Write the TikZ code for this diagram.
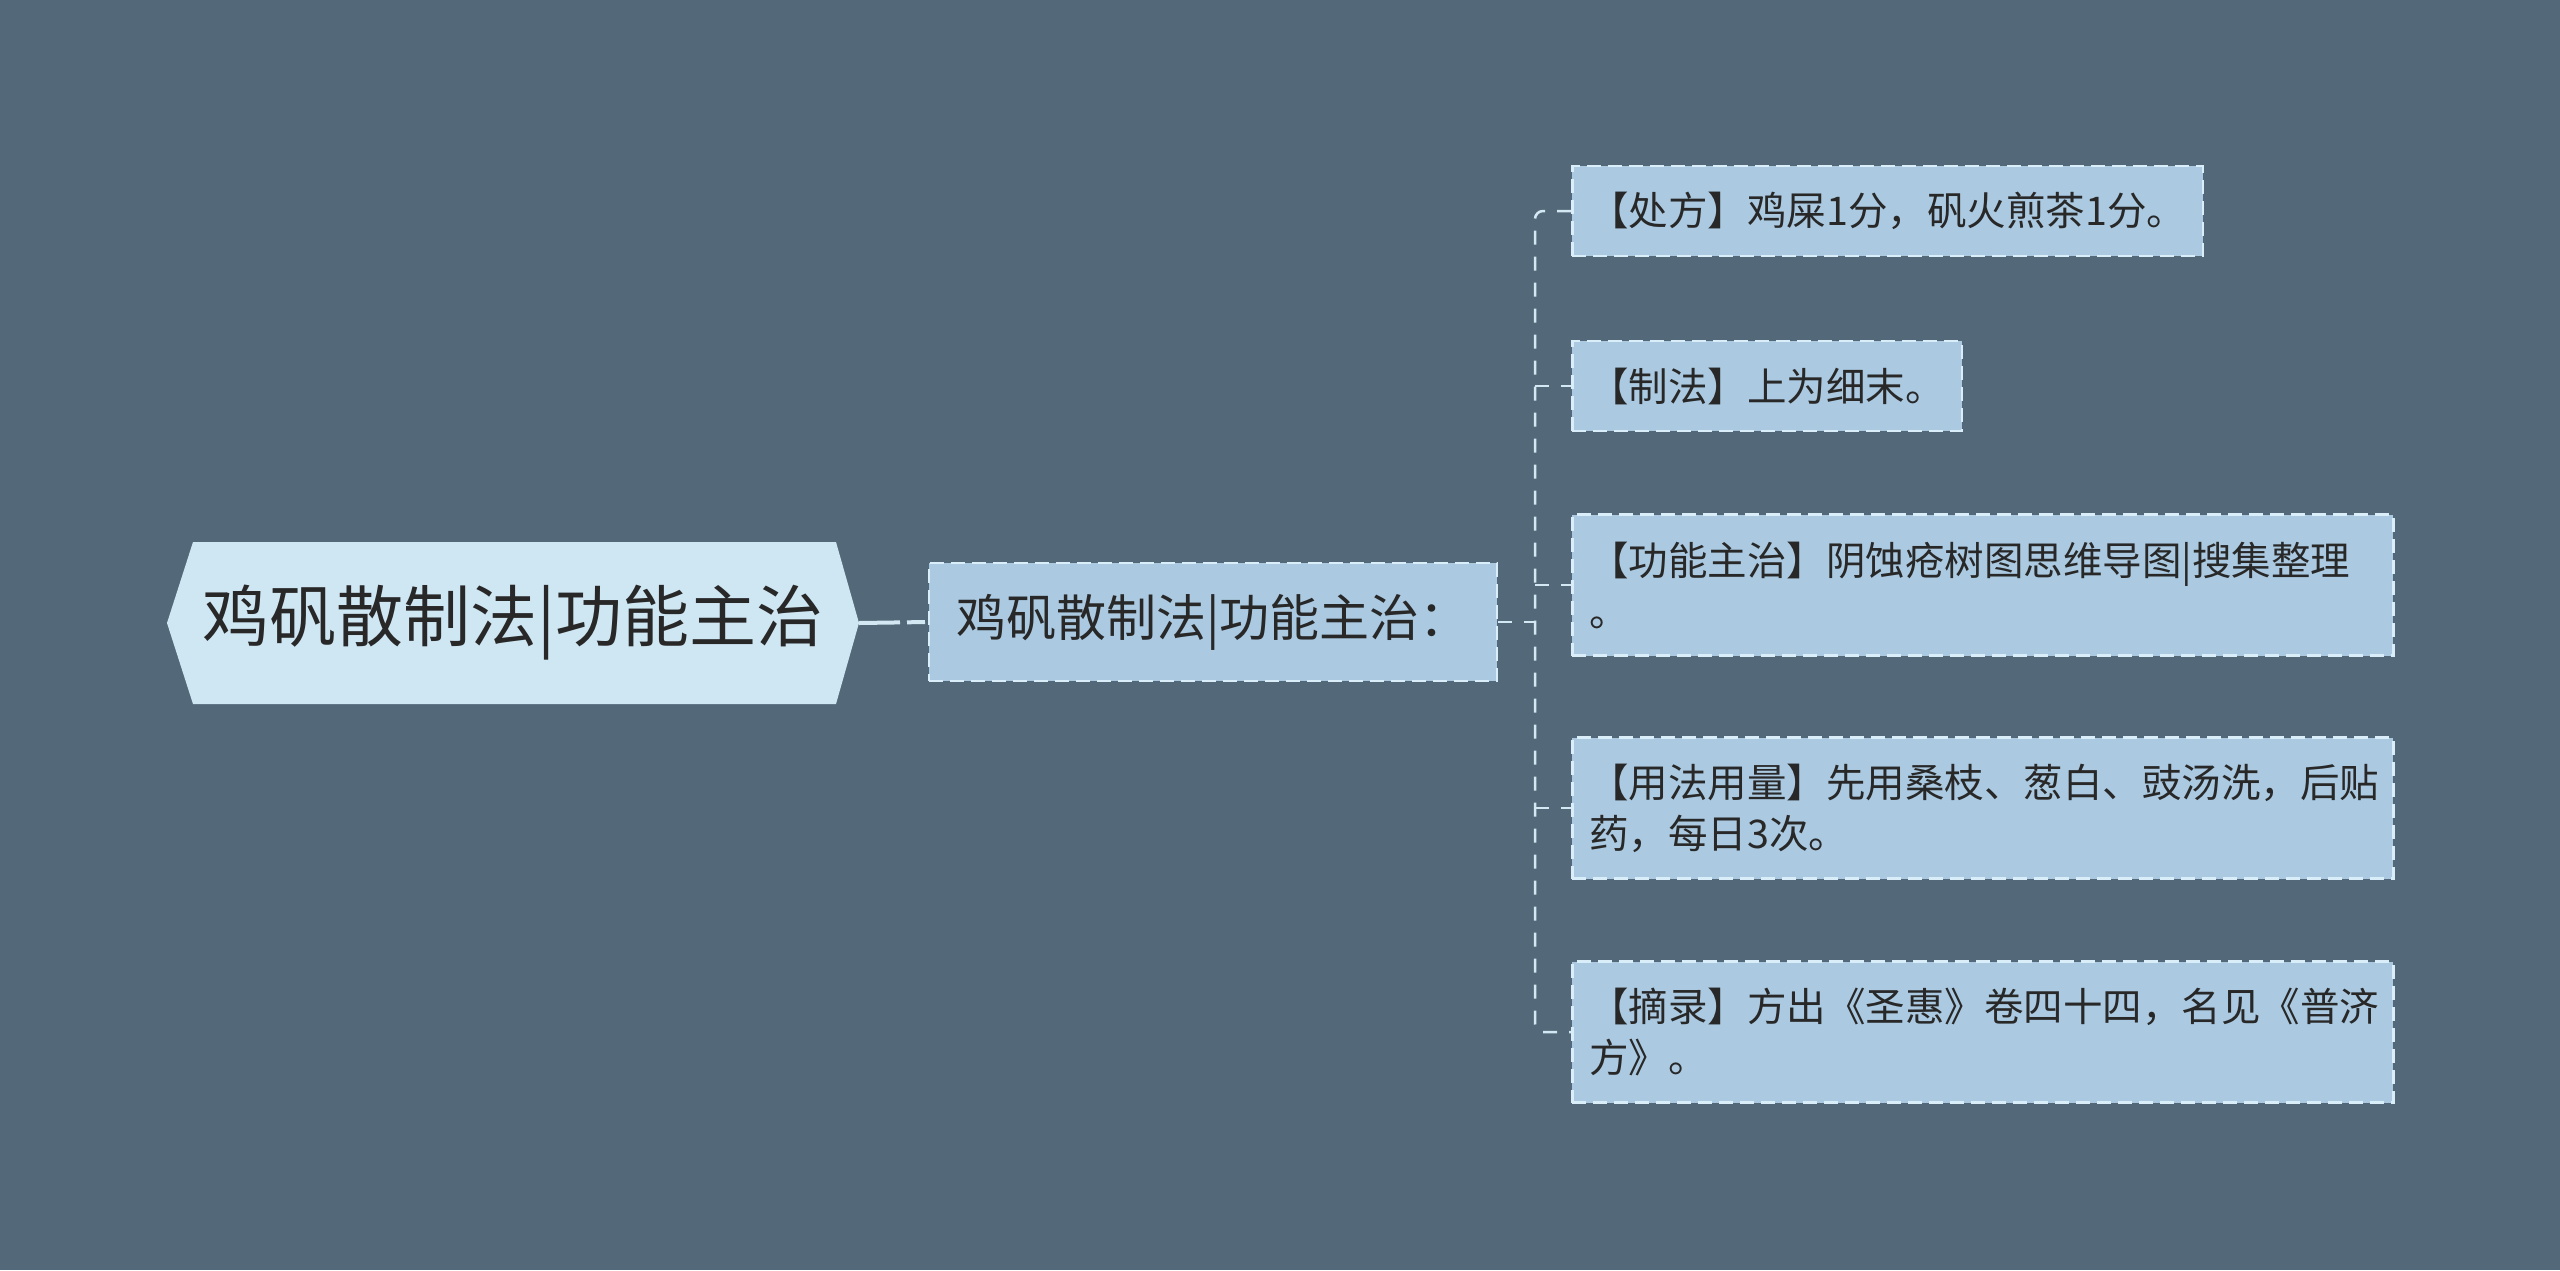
\documentclass[tikz,border=0pt]{standalone}
\usepackage{fontspec}
\newfontfamily\cjk{Noto Sans CJK SC}
\definecolor{bg}{RGB}{83,104,120}
\definecolor{rootfill}{RGB}{207,230,243}
\definecolor{boxfill}{RGB}{171,202,225}
\definecolor{boxline}{RGB}{218,238,249}
\definecolor{connline}{RGB}{212,232,244}
\definecolor{txt}{RGB}{40,40,40}
\tikzset{
  leafbox/.style={draw=boxline, line width=2.5pt, dash pattern=on 14pt off 7pt,
    fill=boxfill, anchor=west, inner xsep=17pt, inner ysep=2pt, minimum height=90pt,
    text=txt, font=\cjk\fontsize{39.5pt}{51pt}\selectfont, align=left},
  twoline/.style={text width=787pt, minimum height=141pt},
  midbox/.style={draw=boxline, line width=2.5pt, dash pattern=on 14pt off 7pt,
    fill=boxfill, minimum width=568pt, minimum height=118pt, inner sep=0pt,
    text=txt, font=\cjk\fontsize{50pt}{60pt}\selectfont},
  roottext/.style={text=txt, font=\cjk\fontsize{67pt}{78pt}\selectfont, inner sep=0pt},
  rootconn/.style={draw=connline, line width=4pt, dash pattern=on 41pt off 7pt on 18pt off 200pt},
  leafconn/.style={draw=connline, line width=2.5pt, dash pattern=on 14pt off 12pt}
}
\begin{document}
\begin{tikzpicture}[x=1pt,y=-1pt]
\fill[bg] (0,0) rectangle (2560,1270);
\useasboundingbox (0,0) rectangle (2560,1270);

% root hexagon
\coordinate (rL) at (167,623);
\coordinate (rTL) at (193,542);
\coordinate (rTR) at (836,542);
\coordinate (rR) at (859,623);
\coordinate (rBR) at (836,704);
\coordinate (rBL) at (193,704);
\fill[rootfill] (rL) -- (rTL) -- (rTR) -- (rR) -- (rBR) -- (rBL) -- cycle;
\node[roottext] (root) at (513,623) {鸡矾散制法|功能主治};

% middle node
\node[midbox] (mid) at (1213,622) {鸡矾散制法|功能主治：};

% leaves
\node[leafbox] (l1) at (1571,211) {【处方】鸡屎1分，矾火煎茶1分。};
\node[leafbox] (l2) at (1571,386) {【制法】上为细末。};
\node[leafbox, twoline] (l3) at (1571,585) {【功能主治】阴蚀疮树图思维导图|搜集整理\\。};
\node[leafbox, twoline] (l4) at (1571,808) {【用法用量】先用桑枝、葱白、豉汤洗，后贴\\药，每日3次。};
\node[leafbox, twoline] (l5) at (1571,1032) {【摘录】方出《圣惠》卷四十四，名见《普济\\方》。};

% connectors
\draw[rootconn] (rR) -- (mid.west);
\coordinate (tx) at (1535,622);
\draw[leafconn] (mid.east) -- (tx);
\draw[leafconn, rounded corners=8pt] (l1.west) -- (tx |- l1.west) -- (tx |- l5.west) -- (l5.west);
\draw[leafconn] (tx |- l2.west) -- (l2.west);
\draw[leafconn] (tx |- l3.west) -- (l3.west);
\draw[leafconn] (tx |- l4.west) -- (l4.west);
\end{tikzpicture}
\end{document}
